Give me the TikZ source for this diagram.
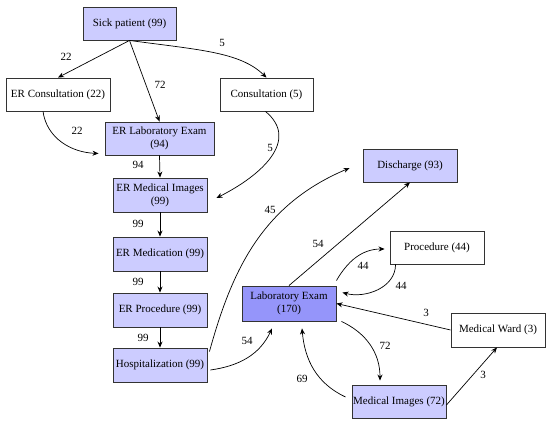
\documentclass[tikz,border=0pt]{standalone}
\usepackage{fontspec}
\setmainfont{Liberation Serif}
\usetikzlibrary{arrows.meta}
\definecolor{lightv}{HTML}{CCCCFF}
\definecolor{darkv}{HTML}{9595FA}
\definecolor{bord}{HTML}{333333}
\begin{document}
\begin{tikzpicture}[x=1pt,y=1pt, font=\fontsize{11}{13}\selectfont,
  box/.style={draw=bord, line width=0.9pt, rectangle, inner sep=0pt, minimum height=33pt, align=center},
  fillbox/.style={box, fill=lightv},
  plainbox/.style={box, fill=white},
  edge/.style={draw=black, line width=0.7pt, -{Stealth[length=6pt,width=5pt]}},
  lbl/.style={inner sep=1pt}]
\useasboundingbox (0,0) rectangle (550,-425);
% nodes
\node[fillbox, minimum width=93pt] (sick) at (129.5,-23.5) {Sick patient (99)};
\node[plainbox, minimum width=104pt] (ercons) at (58,-94.5) {ER Consultation (22)};
\node[plainbox, minimum width=93pt] (cons) at (266.5,-94.5) {Consultation (5)};
\node[fillbox, minimum width=109pt] (erlab) at (159.5,-138.5) {ER Laboratory Exam\\(94)};
\node[fillbox, minimum width=94pt, minimum height=34pt] (ermi) at (160,-195) {ER Medical Images\\(99)};
\node[fillbox, minimum width=94pt, minimum height=34pt] (ermed) at (160,-254) {ER Medication (99)};
\node[fillbox, minimum width=94pt, minimum height=34pt] (erproc) at (160,-310) {ER Procedure (99)};
\node[fillbox, minimum width=94pt, minimum height=34pt] (hosp) at (160,-365) {Hospitalization (99)};
\node[box, fill=darkv, minimum width=94pt, minimum height=35pt] (lab) at (289,-303.5) {Laboratory Exam\\(170)};
\node[fillbox, minimum width=94pt] (dis) at (410,-165.5) {Discharge (93)};
\node[plainbox, minimum width=94pt] (proc) at (437,-247.5) {Procedure (44)};
\node[plainbox, minimum width=94pt, minimum height=34pt] (ward) at (498,-330) {Medical Ward (3)};
\node[fillbox, minimum width=94pt] (mi) at (399,-401.5) {Medical Images (72)};
% edges
\draw[edge] (sick.south) -- (ercons.north) node[lbl] at (66,-57) {22};
\draw[edge] (sick.south) -- (erlab.north) node[lbl] at (160,-85) {72};
\draw[edge] (sick.south) .. controls (200,-50) and (240,-52) .. (cons.north) node[lbl] at (222,-43) {5};
\draw[edge] ([xshift=-15pt]ercons.south) to[out=-82,in=178] ([xshift=-6pt,yshift=2pt]erlab.south west) node[lbl] at (77,-131) {22};
\draw[edge] ([xshift=-1pt]cons.south) .. controls (300,-140) and (262,-175) .. ([xshift=9pt,yshift=-3pt]ermi.east) node[lbl] at (270,-148) {5};
\draw[edge] (erlab.south) -- (ermi.north) node[lbl] at (138,-165) {94};
\draw[edge] (ermi.south) -- (ermed.north) node[lbl] at (138,-224) {99};
\draw[edge] (ermed.south) -- (erproc.north) node[lbl] at (138,-282) {99};
\draw[edge] (erproc.south) -- (hosp.north) node[lbl] at (143,-338) {99};
\draw[edge] ([xshift=2pt,yshift=-4pt]hosp.north east) .. controls (232,-270) and (262,-205) .. ([xshift=-13pt,yshift=-2.5pt]dis.west) node[lbl] at (270,-210) {45};
\draw[edge] ([xshift=3pt,yshift=-5pt]hosp.east) to[out=8,in=-115] ([xshift=-17pt,yshift=-7pt]lab.south) node[lbl] at (247,-341) {54};
\draw[edge] (lab.north) -- (dis.south) node[lbl] at (318,-244) {54};
\draw[edge] ([yshift=5pt]lab.north east) to[out=60,in=180] ([xshift=-5pt,yshift=-1.5pt]proc.west) node[lbl] at (363,-266) {44};
\draw[edge] ([xshift=6pt]proc.south west) to[out=-90,in=-15] ([xshift=6pt,yshift=-7pt]lab.north east) node[lbl] at (401,-286) {44};
\draw[edge] (ward.west) -- (lab.east) node[lbl] at (426,-313) {3};
\draw[edge] ([xshift=5pt]lab.south east) to[out=-25,in=90] ([xshift=-19pt,yshift=4pt]mi.north) node[lbl] at (385,-346) {72};
\draw[edge] ([xshift=-6pt,yshift=4.5pt]mi.west) to[out=155,in=-85] ([xshift=13pt,yshift=-7pt]lab.south) node[lbl] at (302,-379) {69};
\draw[edge] ([yshift=-3.5pt]mi.east) -- ([xshift=-1pt]ward.south) node[lbl] at (483,-375) {3};
\end{tikzpicture}
\end{document}
